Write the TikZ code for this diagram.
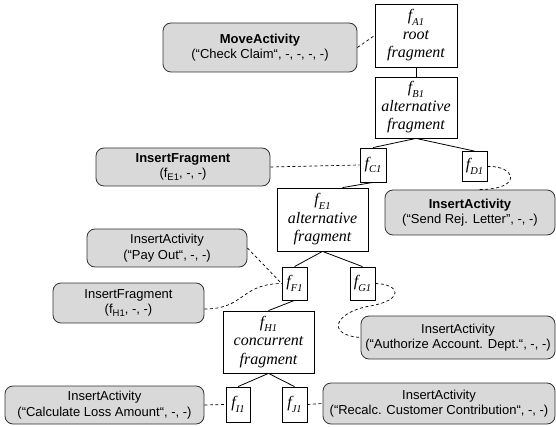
\documentclass[tikz,border=0pt]{standalone}
\usepackage{fontspec}
\setmainfont{Liberation Serif}
\setsansfont{Liberation Sans}
\definecolor{opgray}{HTML}{D9D9D9}
\definecolor{opedge}{HTML}{333333}
% lowered index for fragment names (serif italic) and for operation arguments (sans)
\newcommand\fidx[1]{\raisebox{-0.28em}{\fontsize{10.5}{10.5}\selectfont #1}}
\newcommand\sidx[1]{\raisebox{-0.25em}{\fontsize{9.5}{9.5}\selectfont #1}}
\begin{document}
\begin{tikzpicture}[x=1pt,y=-1pt,
  frag/.style={draw=black, fill=white, line width=0.8pt, inner sep=0pt,
    align=center, font=\itshape\fontsize{16}{18.5}\selectfont},
  op/.style={draw=opedge, fill=opgray, rounded corners=8pt, line width=0.8pt,
    inner sep=0pt, align=center, font=\sffamily\fontsize{13}{15.5}\selectfont},
  tree/.style={line width=0.8pt},
  link/.style={line width=0.7pt, dash pattern=on 3pt off 2.5pt}]
\fill[white] (0,0) rectangle (556,427);
\useasboundingbox (0,0) rectangle (556,427);

% fragment tree
\node[frag, minimum width=82pt, minimum height=63pt] (fA1) at (416,35.5)
  {f\fidx{A1}\\root\\fragment};
\node[frag, minimum width=82pt, minimum height=61pt] (fB1) at (416,107.5)
  {f\fidx{B1}\\alternative\\fragment};
\node[frag, minimum width=26pt, minimum height=34pt] (fC1) at (373,165) {f\fidx{C1}};
\node[frag, minimum width=25pt, minimum height=30pt] (fD1) at (474.5,166.5) {f\fidx{D1}};
\node[frag, minimum width=91pt, minimum height=63pt] (fE1) at (322.5,219.5)
  {f\fidx{E1}\\alternative\\fragment};
\node[frag, minimum width=25pt, minimum height=33pt] (fF1) at (294.5,283.5) {f\fidx{F1}};
\node[frag, minimum width=25pt, minimum height=33pt] (fG1) at (362.5,283.5) {f\fidx{G1}};
\node[frag, minimum width=91pt, minimum height=62pt] (fH1) at (268.5,342)
  {f\fidx{H1}\\concurrent\\fragment};
\node[frag, minimum width=24pt, minimum height=35pt] (fI1) at (238,404.5) {f\fidx{I1}};
\node[frag, minimum width=25pt, minimum height=35pt] (fJ1) at (294.5,404.5) {f\fidx{J1}};

\draw[tree] (fA1.south) -- (fB1.north);
\draw[tree] (fB1.south) -- (fC1.north);
\draw[tree] (fB1.south) -- (fD1.north);
\draw[tree] (fC1.south) -- ([xshift=20pt]fE1.north);
\draw[tree] (fE1.south) -- (fF1.north);
\draw[tree] (fE1.south) -- (fG1.north);
\draw[tree] (fF1.south) -- (fH1.north);
\draw[tree] (fH1.south) -- (fI1.north);
\draw[tree] (fH1.south) -- (fJ1.north);

% change operations
\node[op, minimum width=194pt, minimum height=49pt] (move) at (260,47.5)
  {\textbf{MoveActivity}\\(“Check Claim“, -, -, -, -)};
\node[op, minimum width=174pt, minimum height=38pt] (if1) at (183,167)
  {\textbf{InsertFragment}\\(f\sidx{E1}, -, -)};
\node[op, minimum width=170pt, minimum height=45pt] (send) at (470,212.5)
  {\textbf{InsertActivity}\\(“Send Rej. Letter”, -, -)};
\node[op, minimum width=160pt, minimum height=38pt] (pay) at (167,248)
  {InsertActivity\\(“Pay Out“, -, -)};
\node[op, minimum width=151pt, minimum height=40pt] (if2) at (128.5,303)
  {InsertFragment\\(f\sidx{H1}, -, -)};
\node[op, minimum width=194pt, minimum height=43pt] (auth) at (458,337.5)
  {InsertActivity\\(“Authorize Account. Dept.“, -, -)};
\node[op, minimum width=199pt, minimum height=38pt] (calc) at (104.5,405)
  {InsertActivity\\(“Calculate Loss Amount“, -, -)};
\node[op, minimum width=232pt, minimum height=41pt] (recalc) at (439,403.5)
  {InsertActivity\\(“Recalc. Customer Contribution“, -, -)};

% assignments of operations to fragments
\coordinate (gbend) at (370,306);
\draw[link] (move.east) -- (fA1.west);
\draw[link] (if1.east) -- (fC1.west);
\draw[link] (fD1.east) .. controls (515,165) and (525,190) .. ([xshift=7pt]send.north);
\draw[link] (pay.east) -- (fF1.west);
\draw[link] ([yshift=-6pt]if2.east) .. controls (245,309) and (240,284) .. (fF1.west);
\draw[link] (fG1.east) .. controls (400,284) and (405,300) .. (gbend)
  .. controls (335,312) and (325,335) .. (auth.west);
\draw[link] (calc.east) -- (fI1.west);
\draw[link] (fJ1.east) -- (recalc.west);
\end{tikzpicture}
\end{document}
